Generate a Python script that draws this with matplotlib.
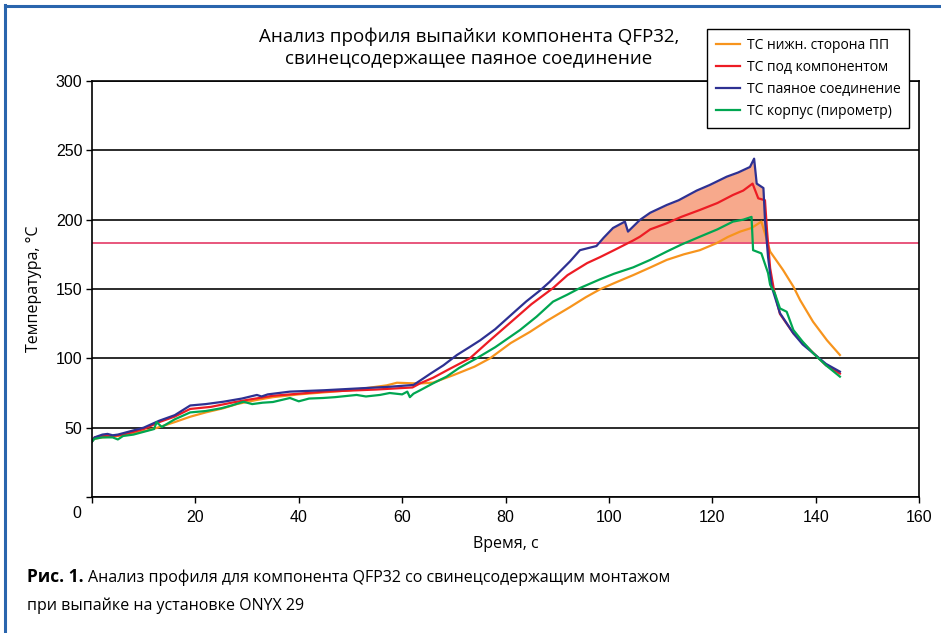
import matplotlib
matplotlib.use("Agg")
import matplotlib.pyplot as plt
from matplotlib.lines import Line2D
import numpy as np

# --- данные ---
t_orange = [0, 0.5, 2, 5, 8, 10, 12.5, 16, 19, 22, 25.4, 28, 31.9, 35, 40, 50, 57, 59, 62, 64,
            66, 70, 74, 77, 81, 84.7, 88, 92.5, 95.5, 98.3, 101.5, 104.7, 108, 111.2, 114.5,
            117.6, 120.8, 123, 125.4, 127.6, 129.5, 130.2, 131.2, 133.7, 135.7, 137, 139.5,
            142.2, 144.7]
orange = [41, 42, 43, 44, 46, 47.5, 49.8, 54, 57.9, 61, 64, 67, 70, 72, 74, 77, 80.5, 82.4, 82, 82,
          82.5, 88, 94, 100, 111, 119, 127, 137, 144, 149.8, 155, 160, 165.5, 171, 175,
          178, 183, 187.5, 191.4, 194, 198.6, 190, 177, 163.7, 151.7, 142, 126.4,
          113, 102.4]

t_red = [0, 0.5, 2, 4, 6, 10, 13, 16, 19, 23, 27, 30, 35, 45, 55, 62, 63.5, 66, 69, 73.1,
         77, 81.5, 85, 89.2, 92, 95.8, 98.3, 101, 104.7, 106, 108, 111.2, 114, 117.6, 121,
         124, 126, 127.8, 128.9, 130.2, 130.6, 131.2, 132, 133.1, 135.7, 139.5, 142, 144.7]
red = [40, 43, 44, 44, 45, 49, 54, 58, 63.5, 65, 68, 70, 73, 76, 77.5, 79, 82, 86, 92, 100,
       113, 127.6, 139, 150.7, 160, 168.7, 173, 178, 185, 187.7, 193, 197.4, 202, 207, 212,
       217.8, 221, 226, 215.4, 214, 192, 165, 148, 132, 118, 104, 95, 89]

t_blue = [0, 0.5, 2, 3, 4, 5, 7, 10, 13, 16, 19, 22, 25.4, 29, 31.9, 32.8, 34, 38.3, 45, 50,
          57.6, 62.2, 63.5, 65.5, 68, 70.6, 73, 75.1, 78, 81.5, 84, 86.7, 88.5, 90.5, 92.5,
          94.4, 96, 97.6, 99, 100.8, 103.1, 103.7, 106, 108, 111.2, 113.5, 117, 119.5, 122.8,
          125, 127.3, 128.1, 128.6, 129.9, 130.2, 130.8, 131.5, 133.1, 135.7, 137.5, 139.5,
          142, 144.7]
blue = [40, 43, 45, 45.5, 44.5, 45, 47, 50, 55, 59, 66, 67, 68.7, 71, 73.6, 72.5, 74, 76, 77, 78,
        79.5, 80.8, 84, 89, 95, 102.4, 108, 113, 121, 132.7, 141, 149, 155, 162.5, 170,
        178, 179.5, 181, 187, 194, 198.6, 191.4, 199.8, 205, 210.6, 214, 221, 225, 231,
        234, 238, 244, 226, 222.8, 200, 173, 151.7, 132.6, 118, 110, 103.8,
        96, 90.4]

t_green = [0, 0.5, 2, 4, 5, 6, 8, 10, 12, 12.5, 13.5, 16, 19, 22, 25, 27, 29.3, 31, 33, 35,
           38.3, 40, 42, 44.7, 47, 51.2, 53, 55.7, 57.6, 60, 61, 61.5, 62.2, 63.5, 66, 68.6,
           71, 74.4, 78, 82.8, 86, 89.2, 92, 94.4, 98.3, 101, 104.7, 108, 111.2, 114, 117.6,
           121, 124, 126, 127.6, 127.9, 129.5, 130.8, 131.2, 132.1, 133.1, 134.4, 135.7,
           137.5, 139.5, 142, 144.7]
green = [40, 42, 43, 43, 41.5, 44, 45, 47, 49, 54, 50.5, 56, 61, 62, 64, 66, 68.7, 67, 68, 68.5,
         71.4, 69, 71, 71.4, 72, 73.6, 72.5, 73.6, 75, 74, 76, 72, 74.5, 77, 82, 86.8,
         93, 100, 108, 120.4, 130, 140.9, 146, 150.7, 157, 161, 165.6, 171, 177, 182, 187.7,
         193, 198.6, 200, 202, 178, 175.7, 161.5, 153, 147, 136, 133.6, 120.4,
         112, 103.8, 95, 86.8]

LIQUIDUS = 183

labels = ["ТС нижн. сторона ПП", "ТС под компонентом",
          "ТС паяное соединение", "ТС корпус (пирометр)"]
colors = ["#f7941d", "#ed1c24", "#2e3192", "#00a651"]

x_ticks = list(range(0, 161, 20))
y_ticks = list(range(0, 301, 50))

W, H = 941, 633
TXT = ["Open Sans", "DejaVu Sans"]
NUM = ["Liberation Sans", "DejaVu Sans"]

fig = plt.figure(figsize=(W / 100, H / 100), dpi=100)
ax = fig.add_axes([92 / W, 1 - 497 / H, 827 / W, 416 / H])

# заливка выше линии ликвидуса
b = np.array(blue)
ax.fill_between(t_blue, b, LIQUIDUS, where=b >= LIQUIDUS, interpolate=True,
                color="#f7a98c", lw=0, zorder=0.3)
ax.axhline(LIQUIDUS, color="#e8567c", lw=1.4, zorder=0.6)

series = [(t_orange, orange), (t_red, red), (t_blue, blue), (t_green, green)]
for (t, v), c, lab in zip(series, colors, labels):
    ax.plot(t, v, color=c, lw=1.6, label=lab, zorder=2)

ax.set_xlim(0, 160)
ax.set_ylim(0, 300)
ax.set_xticks(x_ticks)
ax.set_xticklabels([""] + [str(x) for x in x_ticks[1:]], family=NUM)
ax.set_yticks(y_ticks)
ax.set_yticklabels([""] + [str(y) for y in y_ticks[1:]], family=NUM)
ax.tick_params(axis="both", direction="out", length=4, width=1, labelsize=11.5,
               colors="black")
ax.tick_params(axis="x", pad=5)
ax.tick_params(axis="y", pad=3)
ax.yaxis.grid(True, color="#1a1a1a", lw=1.3)
ax.set_axisbelow(True)
for s in ax.spines.values():
    s.set_color("black")
    s.set_linewidth(1.2)

ax.set_xlabel("Время, с", family=TXT, fontsize=11.5, labelpad=8)
ax.set_ylabel("Температура, °С", family=TXT, fontsize=11.5, labelpad=10)
fig.text(77 / W, 1 - 513 / H, "0", ha="center", va="center", family=NUM, fontsize=11.5)

fig.text(469 / W, 1 - 48 / H,
         "Анализ профиля выпайки компонента QFP32,\nсвинецсодержащее паяное соединение",
         ha="center", va="center", family=TXT, fontsize=13.5, linespacing=1.25)

leg = fig.legend(loc="upper left", bbox_to_anchor=(707 / W, 1 - 29 / H),
                 borderaxespad=0, fancybox=False, edgecolor="black", framealpha=1,
                 prop={"family": TXT, "size": 10}, handlelength=1.7,
                 labelspacing=0.5, borderpad=0.65, handletextpad=0.5)
leg.get_frame().set_linewidth(1.0)

# синяя рамка страницы
fig.add_artist(Line2D([5 / W, 5 / W], [0, 1 - 5 / H], transform=fig.transFigure,
                      color="#2a65ad", lw=2.2))
fig.add_artist(Line2D([5 / W, 1], [1 - 6 / H, 1 - 6 / H], transform=fig.transFigure,
                      color="#2a65ad", lw=2.2))

# подпись
bold = fig.text(27 / W, 1 - 582 / H, "Рис. 1.", family=TXT, fontsize=12.5,
                fontweight="bold", va="baseline")
fig.canvas.draw()
bb = bold.get_window_extent(fig.canvas.get_renderer())
fig.text(bb.x1 / W + 4 / W, 1 - 582 / H,
         "Анализ профиля для компонента QFP32 со свинецсодержащим монтажом",
         family=TXT, fontsize=11.5, va="baseline")
fig.text(27 / W, 1 - 610 / H, "при выпайке на установке ONYX 29",
         family=TXT, fontsize=11.5, va="baseline")

fig.savefig("out.png", dpi=100)
